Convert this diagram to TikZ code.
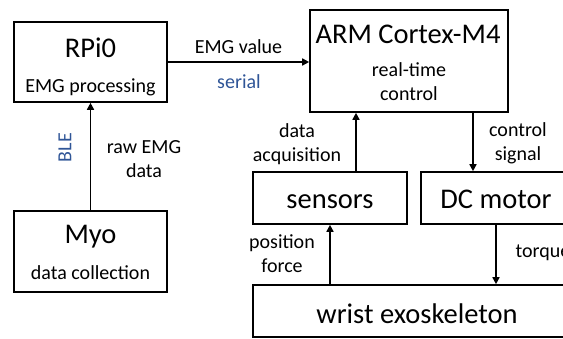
\documentclass[tikz,border=0pt]{standalone}
\usepackage{fontspec}
\setmainfont{Carlito}
\usetikzlibrary{arrows.meta}
\definecolor{linkblue}{RGB}{47,85,151}

\begin{document}
\begin{tikzpicture}[x=1pt, y=-1pt,
    box/.style={rectangle, draw, line width=1.6pt, inner sep=0pt},
    title/.style={anchor=base, font=\fontsize{28.5}{30}\selectfont},
    sub/.style={anchor=base, font=\fontsize{20}{24}\selectfont},
    lbl/.style={anchor=base, align=center, font=\fontsize{20}{23.5}\selectfont},
    link/.style={lbl, text=linkblue},
    flow/.style={line width=1.6pt, -{Triangle[length=7pt, width=7pt]}}]
    \useasboundingbox (0,0) rectangle (563,338);

    \node[box, minimum width=153pt, minimum height=80pt] (rpi) at (90.5,62) {};
    \node[box, minimum width=198pt, minimum height=102pt] (arm) at (409,61) {};
    \node[box, minimum width=153pt, minimum height=81pt] (myo) at (90.5,251.5) {};
    \node[box, minimum width=154pt, minimum height=52pt] (sensors) at (330,198) {};
    \node[box, minimum width=150pt, minimum height=52pt] (motor) at (496,198) {};
    \node[box, minimum width=328pt, minimum height=52pt] (exo) at (417,311) {};

    \node[title] (rpi-t) at (90.5,57) {RPi0};
    \node[sub] (rpi-s) at (90.5,92) {EMG processing};
    \node[title] (arm-t) at (408,43) {ARM Cortex-M4};
    \node[sub, align=center] (arm-s) at (409,100) {real-time\\control};
    \node[title] (myo-t) at (90.5,243) {Myo};
    \node[sub] (myo-s) at (90.5,279) {data collection};
    \node[title] (sensors-t) at (330,208) {sensors};
    \node[title] (motor-t) at (496,208) {DC motor};
    \node[title] (exo-t) at (417,323) {wrist exoskeleton};

    \draw[flow] (rpi.east) -- (rpi.east -| arm.west);
    \draw[flow] (myo.north) -- (rpi.south);
    \draw[flow] ([xshift=26pt]sensors.north) -- ([xshift=26pt]sensors.north |- arm.south);
    \draw[flow] ([xshift=64pt]arm.south) -- ([xshift=64pt]arm.south |- motor.north);
    \draw[flow] (sensors.south |- exo.north) -- (sensors.south);
    \draw[flow] (motor.south) -- (motor.south |- exo.north);

    \node[lbl] (emg) at (238.5,53) {EMG value};
    \node[link] (serial) at (239,88) {serial};
    \node[link, anchor=center, rotate=90] (ble) at (65,147.5) {BLE};
    \node[lbl] (raw) at (144,177) {raw EMG\\data};
    \node[lbl] (acq) at (297,161) {data\\acquisition};
    \node[lbl] (ctrl) at (518,160) {control\\signal};
    \node[lbl] (pos) at (282,272) {position\\force};
    \node[lbl, anchor=base west] (torque) at (512,257) {torque};
\end{tikzpicture}
\end{document}
